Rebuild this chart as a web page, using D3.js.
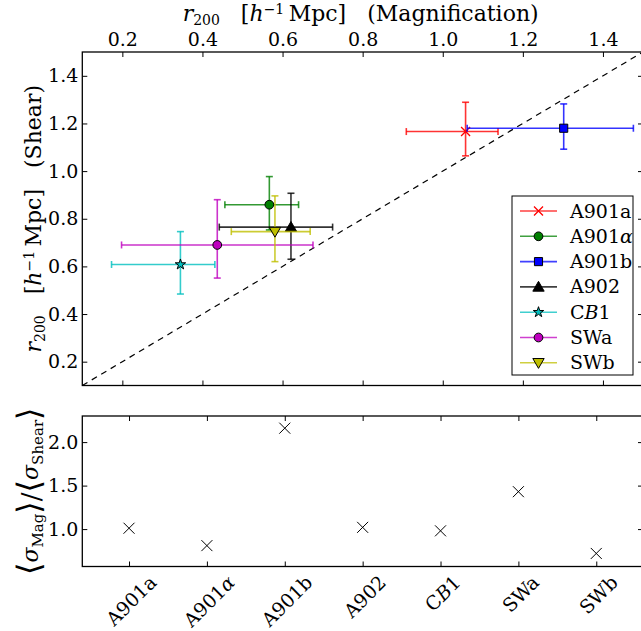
<!DOCTYPE html>
<html><head><meta charset="utf-8">
<script src="https://cdn.jsdelivr.net/npm/d3@7"></script>
<style>
body{margin:0;background:#fff;}
svg{display:block;font-family:"DejaVu Serif",serif;}
</style></head>
<body><svg id="c" width="641" height="631"></svg>
<script>
// ---------- data ----------
const names = ["A901a","A901α","A901b","A902","CB1","SWa","SWb"];
const colors = ["#ff0000","#008000","#0000ff","#000000","#00bfbf","#bf00bf","#bfbf00"];
const markers = ["x","o","s","^","*","o","v"];
const magR200 = [1.057, 0.567, 1.302, 0.621, 0.345, 0.437, 0.581];
const magErrLo = [0.148, 0.111, 0.241, 0.179, 0.172, 0.239, 0.109];
const magErrHi = [0.081, 0.073, 0.174, 0.104, 0.086, 0.239, 0.088];
const shearR200 = [1.166, 0.859, 1.180, 0.765, 0.608, 0.690, 0.746];
const shearErrLo = [0.102, 0.106, 0.088, 0.135, 0.124, 0.139, 0.126];
const shearErrHi = [0.123, 0.118, 0.102, 0.142, 0.138, 0.190, 0.150];
const sigmaRatio = [1.01, 0.81, 2.16, 1.02, 0.98, 1.43, 0.72];
const r200Ticks = [0.2, 0.4, 0.6, 0.8, 1.0, 1.2, 1.4];
const ratioTicks = [1.0, 1.5, 2.0];

const svg = d3.select("#c");
const FONT = 19;

// ---------- scales ----------
const L = 82.3, R = 643;
const x = d3.scaleLinear().domain([0.1, 1.5]).range([L, R]);
const y = d3.scaleLinear().domain([0.1, 1.5]).range([385.5, 52]);
const xb = d3.scaleLinear().domain([-0.6, 6.6]).range([L, R]);
const yb = d3.scaleLinear().domain([0.57, 2.3]).range([566.5, 416]);

function styleAxis(g){
  g.select(".domain").remove();
  g.selectAll(".tick line").attr("stroke","#000").attr("stroke-width",1);
  g.selectAll(".tick text").attr("font-family","DejaVu Serif").attr("font-size",FONT).attr("fill","#000");
}
const fmt = d3.format(".1f");

// ---------- top panel ----------
const topG = svg.append("g");
topG.append("line").attr("x1",x(0.1)).attr("y1",y(0.1)).attr("x2",x(1.5)).attr("y2",y(1.5))
  .attr("stroke","#000").attr("stroke-width",1.2).attr("stroke-dasharray","6,5");

topG.append("g").attr("transform",`translate(0,${y(1.5)})`)
  .call(d3.axisTop(x).tickValues(r200Ticks).tickFormat(fmt).tickSizeInner(-5).tickSizeOuter(0).tickPadding(6))
  .call(styleAxis);
topG.append("g").attr("transform",`translate(0,${y(0.1)})`)
  .call(d3.axisBottom(x).tickValues(r200Ticks).tickFormat("").tickSizeInner(-5).tickSizeOuter(0))
  .call(styleAxis);
topG.append("g").attr("transform",`translate(${L},0)`)
  .call(d3.axisLeft(y).tickValues(r200Ticks).tickFormat(fmt).tickSizeInner(-5).tickSizeOuter(0).tickPadding(4))
  .call(styleAxis);
topG.append("g").attr("transform",`translate(${R},0)`)
  .call(d3.axisRight(y).tickValues(r200Ticks).tickFormat("").tickSizeInner(-5).tickSizeOuter(0))
  .call(styleAxis);

function markerPath(type){
  const s = {o:d3.symbolCircle, s:d3.symbolSquare, "^":d3.symbolTriangle, v:d3.symbolTriangle, "*":d3.symbolStar};
  const size = {o:60, s:66, "^":56, v:56, "*":34}[type];
  return d3.symbol().type(s[type]).size(size)();
}
function drawMarker(g, type, cx, cy, color){
  if(type==="x"){
    const h=4.5;
    g.append("path").attr("d",`M${cx-h},${cy-h}L${cx+h},${cy+h}M${cx-h},${cy+h}L${cx+h},${cy-h}`)
      .attr("stroke",color).attr("stroke-width",1.3).attr("fill","none");
  } else {
    const rot = type==="v" ? 180 : 0;
    const dy = type==="^" ? 1 : (type==="v" ? -1 : 0);
    g.append("path").attr("d",markerPath(type))
      .attr("transform",`translate(${cx},${cy+dy}) rotate(${rot})`)
      .attr("fill",color).attr("stroke","#000").attr("stroke-width",1);
  }
}

const cap = 3.5;
names.forEach((n,i)=>{
  const g = topG.append("g");
  const c = colors[i];
  const cx = x(magR200[i]), cy = y(shearR200[i]);
  const x0 = x(magR200[i]-magErrLo[i]), x1 = x(magR200[i]+magErrHi[i]);
  const y0 = y(shearR200[i]-shearErrLo[i]), y1 = y(shearR200[i]+shearErrHi[i]);
  const eb = g.append("g").attr("stroke",c).attr("stroke-width",1.6).attr("stroke-opacity",0.8).attr("fill","none");
  eb.append("line").attr("x1",x0).attr("x2",x1).attr("y1",cy).attr("y2",cy);
  eb.append("line").attr("x1",cx).attr("x2",cx).attr("y1",y0).attr("y2",y1);
  eb.append("line").attr("x1",x0).attr("x2",x0).attr("y1",cy-cap).attr("y2",cy+cap);
  eb.append("line").attr("x1",x1).attr("x2",x1).attr("y1",cy-cap).attr("y2",cy+cap);
  eb.append("line").attr("y1",y0).attr("y2",y0).attr("x1",cx-cap).attr("x2",cx+cap);
  eb.append("line").attr("y1",y1).attr("y2",y1).attr("x1",cx-cap).attr("x2",cx+cap);
  drawMarker(g, markers[i], cx, cy, c);
});

topG.append("rect").attr("x",L).attr("y",y(1.5)).attr("width",R-L).attr("height",y(0.1)-y(1.5))
  .attr("fill","none").attr("stroke","#000").attr("stroke-width",1.3);

function labelText(sel, name){
  if(name==="A901α"){ sel.text("A901"); sel.append("tspan").attr("font-style","italic").text("α"); }
  else if(name==="CB1"){ sel.text("C"); sel.append("tspan").attr("font-style","italic").text("B"); sel.append("tspan").text("1"); }
  else sel.text(name);
}
const lg = topG.append("g");
const lgTop = 196, lgStep = 25.3;
lg.append("rect").attr("x",512).attr("y",lgTop).attr("width",121).attr("height",179)
  .attr("fill","#fff").attr("stroke","#000").attr("stroke-width",1);
names.forEach((n,i)=>{
  const ly = lgTop + 15 + i*lgStep;
  lg.append("line").attr("x1",520).attr("x2",557).attr("y1",ly).attr("y2",ly)
    .attr("stroke",colors[i]).attr("stroke-width",1.6).attr("stroke-opacity",0.75);
  const mg = lg.append("g");
  drawMarker(mg, markers[i], 538.5, ly, colors[i]);
  const t = lg.append("text").attr("x",570).attr("y",ly+6.5).attr("font-size",FONT);
  labelText(t, n);
});

function r200Label(sel, suffix){
  sel.append("tspan").attr("font-style","italic").text("r");
  sel.append("tspan").attr("font-size",14).attr("dy",4).text("200");
  sel.append("tspan").attr("dy",-4).text("\u00a0\u00a0\u00a0[");
  sel.append("tspan").attr("font-style","italic").text("h");
  sel.append("tspan").attr("font-size",14).attr("dy",-7).text("−1");
  sel.append("tspan").attr("dy",7).text("\u2009Mpc]\u00a0\u00a0\u00a0" + suffix);
}
const tl = svg.append("text").attr("x",(L+R)/2 - 2).attr("y",20.5).attr("text-anchor","middle").attr("font-size",22);
r200Label(tl, "(Magnification)");

const ll = svg.append("text").attr("transform",`translate(41,${(y(0.1)+y(1.5))/2}) rotate(-90)`)
  .attr("text-anchor","middle").attr("font-size",22);
r200Label(ll, "(Shear)");

// ---------- bottom panel ----------
const bot = svg.append("g");
bot.append("g").attr("transform",`translate(0,${yb(0.57)})`)
  .call(d3.axisBottom(xb).tickValues(d3.range(names.length)).tickFormat("").tickSizeInner(-5).tickSizeOuter(0))
  .call(styleAxis);
bot.append("g").attr("transform",`translate(0,${yb(2.3)})`)
  .call(d3.axisTop(xb).tickValues(d3.range(names.length)).tickFormat("").tickSizeInner(-5).tickSizeOuter(0))
  .call(styleAxis);
bot.append("g").attr("transform",`translate(${L},0)`)
  .call(d3.axisLeft(yb).tickValues(ratioTicks).tickFormat(fmt).tickSizeInner(-5).tickSizeOuter(0).tickPadding(4))
  .call(styleAxis);
bot.append("g").attr("transform",`translate(${R},0)`)
  .call(d3.axisRight(yb).tickValues(ratioTicks).tickFormat("").tickSizeInner(-5).tickSizeOuter(0))
  .call(styleAxis);
bot.append("rect").attr("x",L).attr("y",yb(2.3)).attr("width",R-L).attr("height",yb(0.57)-yb(2.3))
  .attr("fill","none").attr("stroke","#000").attr("stroke-width",1.3);

sigmaRatio.forEach((v,i)=>{
  const cx = xb(i), cy = yb(v), h = 5.5;
  bot.append("path").attr("d",`M${cx-h},${cy-h}L${cx+h},${cy+h}M${cx-h},${cy+h}L${cx+h},${cy-h}`)
    .attr("stroke","#000").attr("stroke-width",1).attr("fill","none");
});

names.forEach((n,i)=>{
  const t = bot.append("text").attr("font-size",FONT).attr("text-anchor","middle").attr("dominant-baseline","central");
  labelText(t, n);
  const w = t.node().getComputedTextLength();
  const hgt = 15;
  const half = (w + hgt) * Math.SQRT1_2 / 2;
  t.attr("transform",`translate(${xb(i)+2},${yb(0.57) + 7 + half}) rotate(-45)`);
});

const bl = svg.append("text").attr("transform",`translate(38,${(yb(0.57)+yb(2.3))/2}) rotate(-90)`)
  .attr("text-anchor","middle").attr("font-size",22);
bl.append("tspan").attr("font-size",32).attr("dy",2).text("⟨");
bl.append("tspan").attr("font-style","italic").attr("dy",-2).text("σ");
bl.append("tspan").attr("font-size",15).attr("dy",5).text("Mag");
bl.append("tspan").attr("font-size",32).attr("dy",-3).text("⟩");
bl.append("tspan").attr("font-size",26).attr("dy",0).text("/");
bl.append("tspan").attr("font-size",32).text("⟨");
bl.append("tspan").attr("font-style","italic").attr("dy",-2).text("σ");
bl.append("tspan").attr("font-size",15).attr("dy",5).text("Shear");
bl.append("tspan").attr("font-size",32).attr("dy",-3).text("⟩");
</script></body></html>
